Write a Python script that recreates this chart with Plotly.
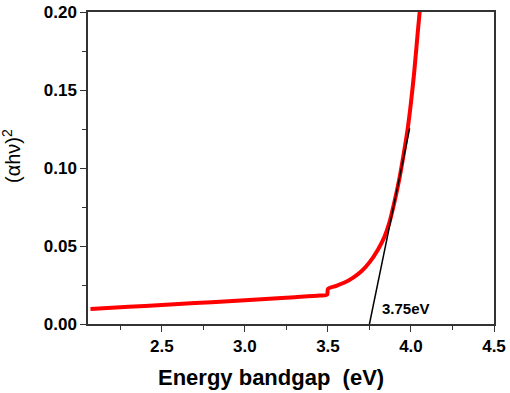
import plotly.graph_objects as go

energy = [2.07, 2.30, 2.50, 2.70, 2.90, 3.10, 3.30, 3.45, 3.495, 3.50, 3.55, 3.60, 3.65,
          3.70, 3.75, 3.80, 3.84, 3.87, 3.90, 3.93, 3.95, 3.98, 4.00, 4.02, 4.04, 4.055]
absorb = [0.0096, 0.0110, 0.0122, 0.0134, 0.0146, 0.0158, 0.0172, 0.0183, 0.0188, 0.0225,
          0.0245, 0.0266, 0.0296, 0.0336, 0.0395, 0.0475, 0.0558, 0.0650, 0.0780, 0.0930,
          0.1050, 0.1250, 0.1420, 0.1620, 0.1860, 0.2030]

tangent_x = [3.75, 3.992]
tangent_y = [0.0, 0.1254]

FONT = "Liberation Sans"

fig = go.Figure()
fig.add_trace(go.Scatter(x=energy, y=absorb, mode="lines",
                         line=dict(color="#ff0000", width=4, shape="spline", smoothing=0.8),
                         showlegend=False))
fig.add_trace(go.Scatter(x=tangent_x, y=tangent_y, mode="lines",
                         line=dict(color="black", width=1.5), showlegend=False))

fig.add_annotation(x=3.815, y=0.0099, text="<b>3.75eV</b>", showarrow=False,
                   xanchor="left", yanchor="middle",
                   font=dict(family=FONT, size=15, color="black"))

# axis titles
fig.add_annotation(xref="paper", yref="paper", x=0.451, y=-0.173,
                   text="<b>Energy bandgap  (eV)</b>", showarrow=False,
                   xanchor="center", yanchor="middle",
                   font=dict(family=FONT, size=22, color="black"))
fig.add_annotation(xref="paper", yref="paper", x=-0.19, y=0.538,
                   text="(αhν)<sup>2</sup>", showarrow=False, textangle=-90,
                   xanchor="center", yanchor="middle",
                   font=dict(family=FONT, size=20, color="black"))

fig.update_layout(
    width=510, height=393,
    margin=dict(l=88, r=16, t=12, b=69, autoexpand=False),
    paper_bgcolor="white", plot_bgcolor="white",
    font=dict(family=FONT, color="black", size=14),
)
fig.update_xaxes(range=[2.055, 4.5], dtick=0.5, tick0=2.5, tickformat=".1f",
                 automargin=False,
                 showline=True, linecolor="#333", linewidth=1.5, mirror=True,
                 ticks="outside", ticklen=6, tickwidth=1, tickcolor="#333",
                 minor=dict(dtick=0.25, tick0=2.25, ticks="outside", ticklen=4, tickcolor="#333"),
                 showgrid=False, zeroline=False,
                 tickprefix="<b>", ticksuffix="</b>",
                 tickfont=dict(family=FONT, size=17, color="black"))
fig.update_yaxes(range=[0, 0.2], dtick=0.05, tickformat=".2f",
                 automargin=False,
                 showline=True, linecolor="#333", linewidth=1.5, mirror=True,
                 ticks="outside", ticklen=6, tickwidth=1, tickcolor="#333",
                 minor=dict(dtick=0.025, ticks="outside", ticklen=4, tickcolor="#333"),
                 showgrid=False, zeroline=False,
                 tickprefix="<b>", ticksuffix="</b>",
                 tickfont=dict(family=FONT, size=17, color="black"))

fig.write_html("out.html", config={"displayModeBar": False},
               post_script="document.body.style.margin='0';")
